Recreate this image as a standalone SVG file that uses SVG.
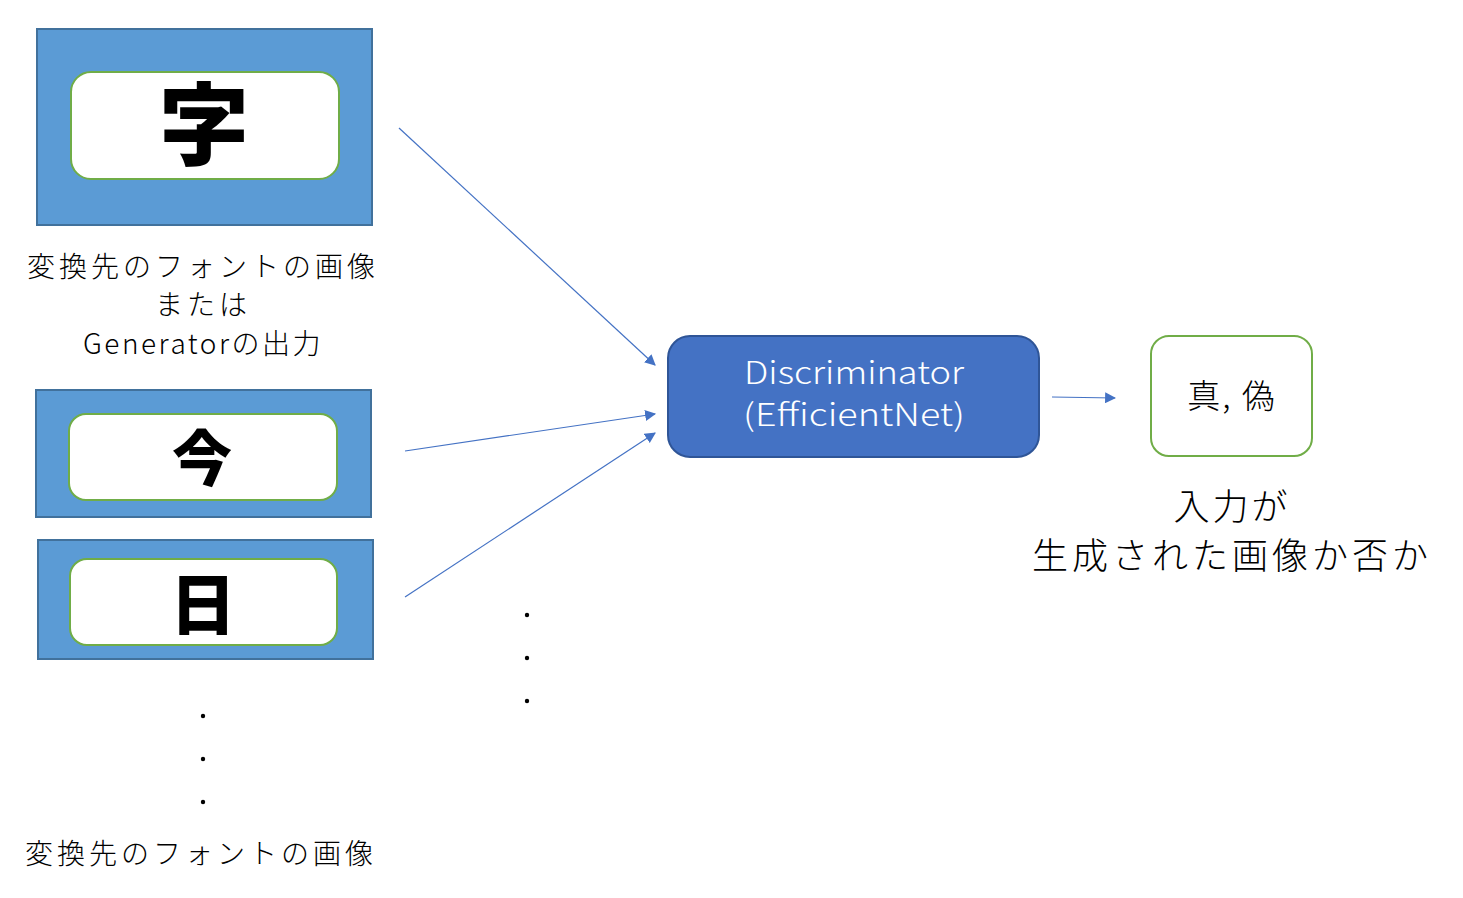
<svg xmlns="http://www.w3.org/2000/svg" width="1463" height="898" viewBox="0 0 1463 898">
<defs>
<marker id="ah" viewBox="0 0 10 10" refX="9" refY="5" markerWidth="11" markerHeight="11" markerUnits="userSpaceOnUse" orient="auto">
<path d="M0,0 L10,5 L0,10 z" fill="#4472C4"/>
</marker>
<style>
.outer{fill:#5B9BD5;stroke:#41719C;stroke-width:2}
.inner{fill:#fff;stroke:#70AD47;stroke-width:2}
.glyph{font-family:"Noto Sans CJK JP","Noto Sans CJK SC",sans-serif;font-weight:900;fill:#000;text-anchor:middle}
.lbl{font-family:"Noto Sans CJK JP","Noto Sans CJK SC",sans-serif;font-weight:300;fill:#000;text-anchor:middle}
.wl{font-family:"Noto Sans CJK JP","Noto Sans CJK SC",sans-serif;font-weight:300;fill:#fff;text-anchor:middle}
.conn{stroke:#4472C4;stroke-width:1.2;fill:none;marker-end:url(#ah)}
.dot{fill:#000}
</style>
</defs>
<rect width="1463" height="898" fill="#fff"/>
<g id="img1">
<rect class="outer" x="37" y="29" width="335" height="196"/>
<rect class="inner" x="71" y="72" width="268" height="107" rx="20"/>
<text class="glyph" x="204" y="158" font-size="90">字</text>
</g>
<g id="label1">
<text class="lbl" x="203" y="277" font-size="28" letter-spacing="4">変換先のフォントの画像</text>
<text class="lbl" x="203" y="315" font-size="28" letter-spacing="4">または</text>
<text class="lbl" x="203" y="354" font-size="28" letter-spacing="2.5">Generatorの出力</text>
</g>
<g id="img2">
<rect class="outer" x="36" y="390" width="335" height="127"/>
<rect class="inner" x="69" y="414" width="268" height="86" rx="17"/>
<text class="glyph" x="202" y="481" font-size="60">今</text>
</g>
<g id="img3">
<rect class="outer" x="38" y="540" width="335" height="119"/>
<rect class="inner" x="70" y="559" width="267" height="86" rx="17"/>
<text class="glyph" x="203" y="629" font-size="66">日</text>
</g>
<g id="dots-left">
<circle class="dot" cx="203" cy="716" r="2.2"/>
<circle class="dot" cx="203" cy="759" r="2.2"/>
<circle class="dot" cx="203" cy="802" r="2.2"/>
</g>
<g id="label2">
<text class="lbl" x="201" y="864" font-size="28" letter-spacing="4">変換先のフォントの画像</text>
</g>
<g id="dots-mid">
<circle class="dot" cx="527" cy="615" r="2.2"/>
<circle class="dot" cx="527" cy="658" r="2.2"/>
<circle class="dot" cx="527" cy="701" r="2.2"/>
</g>
<g id="discriminator">
<rect x="668" y="336" width="371" height="121" rx="22" fill="#4472C4" stroke="#2F5597" stroke-width="2"/>
<text class="wl" x="854" y="384" font-size="31" textLength="220" lengthAdjust="spacingAndGlyphs">Discriminator</text>
<text class="wl" x="854" y="426" font-size="31" textLength="222" lengthAdjust="spacingAndGlyphs">(EfficientNet)</text>
</g>
<g id="output">
<rect x="1151" y="336" width="161" height="120" rx="18" fill="#fff" stroke="#70AD47" stroke-width="2"/>
<text class="lbl" x="1232" y="408" font-size="33" letter-spacing="2">真, 偽</text>
</g>
<g id="label3">
<text class="lbl" x="1232" y="520" font-size="36" letter-spacing="3">入力が</text>
<text class="lbl" x="1232" y="569" font-size="36" letter-spacing="4">生成された画像か否か</text>
</g>
<g id="connectors">
<line class="conn" x1="399" y1="128" x2="655" y2="365"/>
<line class="conn" x1="405" y1="451" x2="655" y2="414"/>
<line class="conn" x1="405" y1="597" x2="655" y2="433"/>
<line class="conn" x1="1052" y1="397" x2="1115" y2="398"/>
</g>
</svg>
